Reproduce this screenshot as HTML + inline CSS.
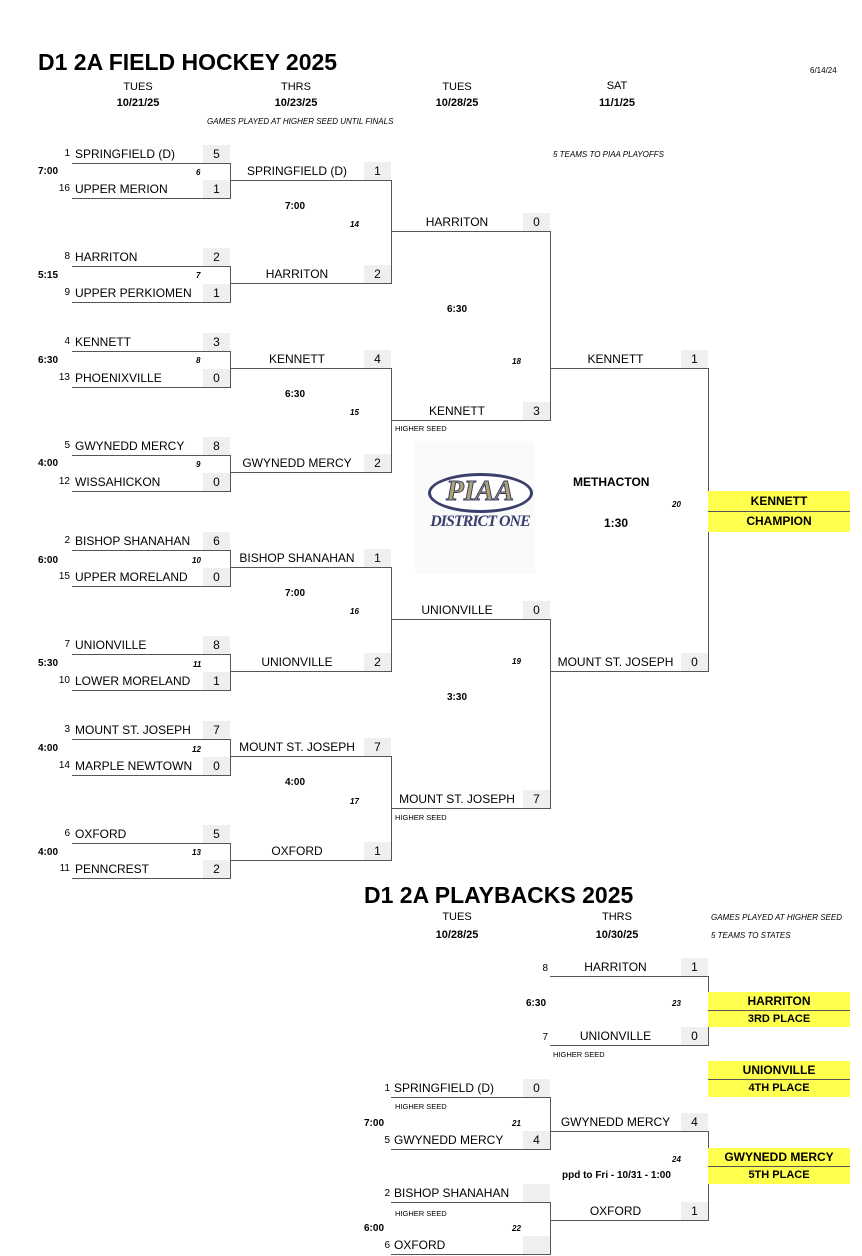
<!DOCTYPE html>
<html><head><meta charset="utf-8"><style>
body{margin:0;width:862px;height:1256px;background:#fff;position:relative;overflow:hidden;font-family:"Liberation Sans",Arial,sans-serif;color:#000}
div{position:absolute;box-sizing:border-box}
.ln{height:19px;border-bottom:1px solid #555;font-size:12px;line-height:18px;white-space:nowrap}
.ln .n{position:absolute;left:3px;top:0}
.ln .c{position:absolute;left:0;right:27px;text-align:center;top:0}
.ln .s{position:absolute;right:0;top:0;width:27px;height:18px;background:#efefef;text-align:center}
.sd{font-size:10px;width:20px;text-align:right;line-height:12px}
.v{width:0;border-left:1px solid #555}
.t{font-size:10px;font-weight:bold;line-height:12px;white-space:nowrap}
.g{font-size:8px;font-weight:bold;font-style:italic;line-height:10px}
.h{font-size:11px;text-align:center;width:120px;line-height:13px}
.hs{font-size:7.5px;line-height:9px}
.y{background:#ffff4d;font-weight:bold;font-size:12px;text-align:center;line-height:18px}
.it{font-size:8px;font-style:italic;line-height:10px;white-space:nowrap}
</style></head><body>
<div style="left:38px;top:49px;font-size:23px;font-weight:bold;line-height:26px;white-space:nowrap">D1 2A FIELD HOCKEY 2025</div>
<div style="left:810px;top:66px;font-size:8px">6/14/24</div>
<div class="h" style="left:78px;top:81px">TUES</div><div class="h" style="left:78px;top:97px;font-weight:bold">10/21/25</div>
<div class="h" style="left:236px;top:81px">THRS</div><div class="h" style="left:236px;top:97px;font-weight:bold">10/23/25</div>
<div class="h" style="left:397px;top:81px">TUES</div><div class="h" style="left:397px;top:97px;font-weight:bold">10/28/25</div>
<div class="h" style="left:557px;top:80px">SAT</div><div class="h" style="left:557px;top:97px;font-weight:bold">11/1/25</div>
<div class="it" style="left:207px;top:117px">GAMES PLAYED AT HIGHER SEED UNTIL FINALS</div>
<div class="it" style="left:553px;top:150px">5 TEAMS TO PIAA PLAYOFFS</div>

<!-- Round 1 -->
<div class="sd" style="left:50px;top:148px">1</div><div class="ln" style="left:72px;top:145px;width:158px"><span class="n">SPRINGFIELD (D)</span><span class="s">5</span></div>
<div class="sd" style="left:50px;top:183px">16</div><div class="ln" style="left:72px;top:180px;width:158px"><span class="n">UPPER MERION</span><span class="s">1</span></div>
<div class="v" style="left:230px;top:163px;height:36px"></div>
<div class="t" style="left:38px;top:166px">7:00</div><div class="g" style="left:196px;top:168px">6</div>

<div class="sd" style="left:50px;top:251px">8</div><div class="ln" style="left:72px;top:248px;width:158px"><span class="n">HARRITON</span><span class="s">2</span></div>
<div class="sd" style="left:50px;top:287px">9</div><div class="ln" style="left:72px;top:284px;width:158px"><span class="n">UPPER PERKIOMEN</span><span class="s">1</span></div>
<div class="v" style="left:230px;top:266px;height:37px"></div>
<div class="t" style="left:38px;top:270px">5:15</div><div class="g" style="left:196px;top:271px">7</div>

<div class="sd" style="left:50px;top:336px">4</div><div class="ln" style="left:72px;top:333px;width:158px"><span class="n">KENNETT</span><span class="s">3</span></div>
<div class="sd" style="left:50px;top:372px">13</div><div class="ln" style="left:72px;top:369px;width:158px"><span class="n">PHOENIXVILLE</span><span class="s">0</span></div>
<div class="v" style="left:230px;top:351px;height:37px"></div>
<div class="t" style="left:38px;top:355px">6:30</div><div class="g" style="left:196px;top:356px">8</div>

<div class="sd" style="left:50px;top:440px">5</div><div class="ln" style="left:72px;top:437px;width:158px"><span class="n">GWYNEDD MERCY</span><span class="s">8</span></div>
<div class="sd" style="left:50px;top:476px">12</div><div class="ln" style="left:72px;top:473px;width:158px"><span class="n">WISSAHICKON</span><span class="s">0</span></div>
<div class="v" style="left:230px;top:455px;height:37px"></div>
<div class="t" style="left:38px;top:458px">4:00</div><div class="g" style="left:196px;top:460px">9</div>

<div class="sd" style="left:50px;top:535px">2</div><div class="ln" style="left:72px;top:532px;width:158px"><span class="n">BISHOP SHANAHAN</span><span class="s">6</span></div>
<div class="sd" style="left:50px;top:571px">15</div><div class="ln" style="left:72px;top:568px;width:158px"><span class="n">UPPER MORELAND</span><span class="s">0</span></div>
<div class="v" style="left:230px;top:550px;height:37px"></div>
<div class="t" style="left:38px;top:555px">6:00</div><div class="g" style="left:192px;top:556px">10</div>

<div class="sd" style="left:50px;top:639px">7</div><div class="ln" style="left:72px;top:636px;width:158px"><span class="n">UNIONVILLE</span><span class="s">8</span></div>
<div class="sd" style="left:50px;top:675px">10</div><div class="ln" style="left:72px;top:672px;width:158px"><span class="n">LOWER MORELAND</span><span class="s">1</span></div>
<div class="v" style="left:230px;top:654px;height:37px"></div>
<div class="t" style="left:38px;top:658px">5:30</div><div class="g" style="left:193px;top:660px">11</div>

<div class="sd" style="left:50px;top:724px">3</div><div class="ln" style="left:72px;top:721px;width:158px"><span class="n">MOUNT ST. JOSEPH</span><span class="s">7</span></div>
<div class="sd" style="left:50px;top:760px">14</div><div class="ln" style="left:72px;top:757px;width:158px"><span class="n">MARPLE NEWTOWN</span><span class="s">0</span></div>
<div class="v" style="left:230px;top:739px;height:37px"></div>
<div class="t" style="left:38px;top:743px">4:00</div><div class="g" style="left:192px;top:745px">12</div>

<div class="sd" style="left:50px;top:828px">6</div><div class="ln" style="left:72px;top:825px;width:158px"><span class="n">OXFORD</span><span class="s">5</span></div>
<div class="sd" style="left:50px;top:863px">11</div><div class="ln" style="left:72px;top:860px;width:158px"><span class="n">PENNCREST</span><span class="s">2</span></div>
<div class="v" style="left:230px;top:843px;height:36px"></div>
<div class="t" style="left:38px;top:847px">4:00</div><div class="g" style="left:192px;top:848px">13</div>

<!-- Round 2 -->
<div class="ln" style="left:230px;top:162px;width:161px"><span class="c">SPRINGFIELD (D)</span><span class="s">1</span></div>
<div class="ln" style="left:230px;top:265px;width:161px"><span class="c">HARRITON</span><span class="s">2</span></div>
<div class="v" style="left:391px;top:180px;height:104px"></div>
<div class="t" style="left:285px;top:201px">7:00</div><div class="g" style="left:350px;top:220px">14</div>

<div class="ln" style="left:230px;top:350px;width:161px"><span class="c">KENNETT</span><span class="s">4</span></div>
<div class="ln" style="left:230px;top:454px;width:161px"><span class="c">GWYNEDD MERCY</span><span class="s">2</span></div>
<div class="v" style="left:391px;top:368px;height:105px"></div>
<div class="t" style="left:285px;top:389px">6:30</div><div class="g" style="left:350px;top:408px">15</div>

<div class="ln" style="left:230px;top:549px;width:161px"><span class="c">BISHOP SHANAHAN</span><span class="s">1</span></div>
<div class="ln" style="left:230px;top:653px;width:161px"><span class="c">UNIONVILLE</span><span class="s">2</span></div>
<div class="v" style="left:391px;top:567px;height:105px"></div>
<div class="t" style="left:285px;top:588px">7:00</div><div class="g" style="left:350px;top:607px">16</div>

<div class="ln" style="left:230px;top:738px;width:161px"><span class="c">MOUNT ST. JOSEPH</span><span class="s">7</span></div>
<div class="ln" style="left:230px;top:842px;width:161px"><span class="c">OXFORD</span><span class="s">1</span></div>
<div class="v" style="left:391px;top:756px;height:105px"></div>
<div class="t" style="left:285px;top:777px">4:00</div><div class="g" style="left:350px;top:797px">17</div>

<!-- Round 3 -->
<div class="ln" style="left:391px;top:213px;width:159px"><span class="c">HARRITON</span><span class="s">0</span></div>
<div class="ln" style="left:391px;top:402px;width:159px"><span class="c">KENNETT</span><span class="s">3</span></div>
<div class="hs" style="left:395px;top:424px">HIGHER SEED</div>
<div class="v" style="left:550px;top:231px;height:190px"></div>
<div class="t" style="left:447px;top:304px">6:30</div><div class="g" style="left:512px;top:357px">18</div>

<div class="ln" style="left:391px;top:601px;width:159px"><span class="c">UNIONVILLE</span><span class="s">0</span></div>
<div class="ln" style="left:391px;top:790px;width:159px"><span class="c">MOUNT ST. JOSEPH</span><span class="s">7</span></div>
<div class="hs" style="left:395px;top:813px">HIGHER SEED</div>
<div class="v" style="left:550px;top:619px;height:190px"></div>
<div class="t" style="left:447px;top:692px">3:30</div><div class="g" style="left:512px;top:657px">19</div>

<!-- Round 4 -->
<div class="ln" style="left:550px;top:350px;width:158px"><span class="c">KENNETT</span><span class="s">1</span></div>
<div class="ln" style="left:550px;top:653px;width:158px"><span class="c">MOUNT ST. JOSEPH</span><span class="s">0</span></div>
<div class="v" style="left:708px;top:368px;height:304px"></div>
<div class="t" style="left:573px;top:475px;font-size:12px;line-height:14px">METHACTON</div>
<div class="g" style="left:672px;top:500px">20</div>
<div class="t" style="left:604px;top:516px;font-size:12px;line-height:14px">1:30</div>

<div class="y" style="left:708px;top:491px;width:142px;height:41px"><div style="left:0;top:1px;width:142px">KENNETT</div><div style="left:0;top:19.5px;width:142px;border-top:1px solid #555">CHAMPION</div></div>

<!-- Logo -->
<div style="left:415px;top:441px;width:120px;height:133px;background:#fafafa"></div>
<div style="left:428px;top:473px;width:105px;height:40px;border:3px solid #3a3f6e;border-radius:50%;background:#fff"></div>
<div style="left:430px;top:474px;width:100px;text-align:center;font-family:'Liberation Serif',serif;font-weight:bold;font-style:italic;font-size:29px;line-height:34px;color:#b3a56a;-webkit-text-stroke:1px #3a3f6e">PIAA</div>
<div style="left:415px;top:512px;width:130px;text-align:center;white-space:nowrap;font-family:'Liberation Serif',serif;font-weight:bold;font-style:italic;font-size:16px;line-height:20px;color:#3a3f6e;letter-spacing:-1px">DISTRICT ONE</div>

<!-- Playbacks -->
<div style="left:364px;top:882px;font-size:23px;font-weight:bold;line-height:26px;white-space:nowrap">D1 2A PLAYBACKS 2025</div>
<div class="h" style="left:397px;top:911px">TUES</div><div class="h" style="left:397px;top:929px;font-weight:bold">10/28/25</div>
<div class="h" style="left:557px;top:911px">THRS</div><div class="h" style="left:557px;top:929px;font-weight:bold">10/30/25</div>
<div class="it" style="left:711px;top:913px">GAMES PLAYED AT HIGHER SEED</div>
<div class="it" style="left:711px;top:931px">5 TEAMS TO STATES</div>

<div class="sd" style="left:528px;top:963px">8</div><div class="ln" style="left:550px;top:958px;width:158px"><span class="c">HARRITON</span><span class="s">1</span></div>
<div class="sd" style="left:528px;top:1032px">7</div><div class="ln" style="left:550px;top:1027px;width:158px"><span class="c">UNIONVILLE</span><span class="s">0</span></div>
<div class="hs" style="left:553px;top:1050px">HIGHER SEED</div>
<div class="v" style="left:708px;top:976px;height:70px"></div>
<div class="t" style="left:526px;top:998px">6:30</div><div class="g" style="left:672px;top:999px">23</div>

<div class="sd" style="left:370px;top:1083px">1</div><div class="ln" style="left:391px;top:1079px;width:159px"><span class="n">SPRINGFIELD (D)</span><span class="s">0</span></div>
<div class="hs" style="left:395px;top:1102px">HIGHER SEED</div>
<div class="sd" style="left:370px;top:1135px">5</div><div class="ln" style="left:391px;top:1131px;width:159px"><span class="n">GWYNEDD MERCY</span><span class="s">4</span></div>
<div class="v" style="left:550px;top:1097px;height:53px"></div>
<div class="t" style="left:364px;top:1118px">7:00</div><div class="g" style="left:512px;top:1119px">21</div>

<div class="sd" style="left:370px;top:1188px">2</div><div class="ln" style="left:391px;top:1184px;width:159px"><span class="n">BISHOP SHANAHAN</span><span class="s"></span></div>
<div class="hs" style="left:395px;top:1209px">HIGHER SEED</div>
<div class="sd" style="left:370px;top:1240px">6</div><div class="ln" style="left:391px;top:1236px;width:159px"><span class="n">OXFORD</span><span class="s"></span></div>
<div class="v" style="left:550px;top:1202px;height:53px"></div>
<div class="t" style="left:364px;top:1223px">6:00</div><div class="g" style="left:512px;top:1224px">22</div>

<div class="ln" style="left:550px;top:1113px;width:158px"><span class="c">GWYNEDD MERCY</span><span class="s">4</span></div>
<div class="ln" style="left:550px;top:1202px;width:158px"><span class="c">OXFORD</span><span class="s">1</span></div>
<div class="v" style="left:708px;top:1131px;height:90px"></div>
<div class="g" style="left:672px;top:1155px">24</div>
<div class="t" style="left:562px;top:1170px">ppd to Fri - 10/31 - 1:00</div>

<div class="y" style="left:708px;top:992px;width:142px;height:35px"><div style="left:0;top:0;width:142px">HARRITON</div><div style="left:0;top:18px;width:142px;border-top:1px solid #555;font-size:11px;line-height:16px">3RD PLACE</div></div>
<div class="y" style="left:708px;top:1061px;width:142px;height:36px"><div style="left:0;top:0;width:142px">UNIONVILLE</div><div style="left:0;top:18px;width:142px;border-top:1px solid #555;font-size:11px;line-height:17px">4TH PLACE</div></div>
<div class="y" style="left:708px;top:1148px;width:142px;height:36px"><div style="left:0;top:0;width:142px">GWYNEDD MERCY</div><div style="left:0;top:18px;width:142px;border-top:1px solid #555;font-size:11px;line-height:17px">5TH PLACE</div></div>
</body></html>
